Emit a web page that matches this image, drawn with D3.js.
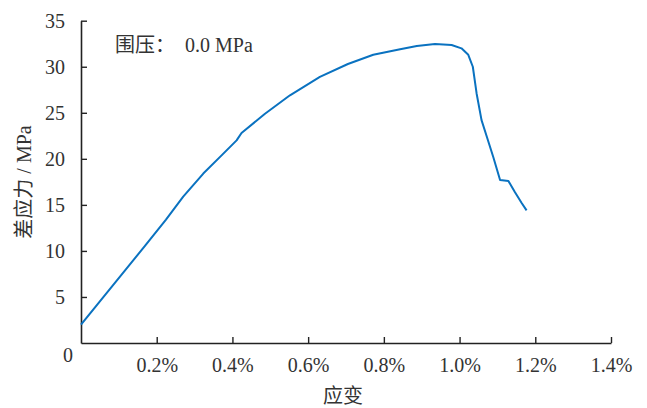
<!DOCTYPE html>
<html lang="zh">
<head>
<meta charset="UTF-8">
<title>差应力-应变曲线</title>
<script src="https://d3js.org/d3.v7.min.js"></script>
<style>
  body { margin: 0; background: #fff; }
  text { font-family: "Liberation Serif", "Noto Sans CJK SC", serif; fill: #333; }
</style>
</head>
<body>
<div id="chart"></div>
<script>
// strain (%) and deviatoric stress (MPa)
const strain = [0, 0.17, 0.2245, 0.27, 0.323, 0.372, 0.411, 0.424, 0.486, 0.552, 0.631, 0.705, 0.772, 0.843, 0.887, 0.935, 0.979, 1.005, 1.023, 1.035, 1.045, 1.058, 1.072, 1.089, 1.107, 1.129, 1.146, 1.164, 1.177];
const stress = [2.0, 10.6, 13.4, 15.9, 18.4, 20.4, 22.0, 22.8, 24.9, 26.9, 28.9, 30.3, 31.3, 31.9, 32.25, 32.46, 32.36, 32.0, 31.3, 30.0, 27.1, 24.2, 22.4, 20.2, 17.7, 17.6, 16.4, 15.2, 14.4];
const xTicks = [0.2, 0.4, 0.6, 0.8, 1.0, 1.2, 1.4];
const yTicks = [5, 10, 15, 20, 25, 30, 35];
const note = "围压：  0.0 MPa";

const W = 647, H = 408;
const svg = d3.select("#chart").append("svg")
    .attr("width", W)
    .attr("height", H);

const x = d3.scaleLinear().domain([0, 1.4]).range([81, 611]);
const y = d3.scaleLinear().domain([0, 35]).range([343, 20.7]);

const axisColor = "#222";
const fs = 20;

// x axis, ticks point up into the plot
const gx = svg.append("g")
    .attr("transform", `translate(0,${y(0)})`)
    .call(d3.axisBottom(x).tickValues(xTicks).tickSizeInner(-6).tickSizeOuter(0)
        .tickFormat(d => d.toFixed(1) + "%"));
gx.select(".domain").attr("stroke", axisColor).attr("stroke-width", 1.6);
gx.selectAll(".tick line").attr("stroke", axisColor).attr("stroke-width", 1.4);
gx.selectAll(".tick text").attr("y", 15).attr("font-size", fs).attr("font-family", null).attr("fill", "#333");

// y axis, ticks point right into the plot
const gy = svg.append("g")
    .attr("transform", `translate(${x(0)},0)`)
    .call(d3.axisLeft(y).tickValues(yTicks).tickSizeInner(-6).tickSizeOuter(0));
gy.select(".domain").attr("stroke", axisColor).attr("stroke-width", 1.6);
gy.selectAll(".tick line").attr("stroke", axisColor).attr("stroke-width", 1.4);
gy.selectAll(".tick text").attr("x", -16).attr("font-size", fs).attr("font-family", null).attr("fill", "#333");

// shared origin label
svg.append("text")
    .attr("x", 68).attr("y", 362)
    .attr("text-anchor", "middle")
    .attr("font-size", fs)
    .text("0");

// the curve
const pts = strain.map((s, i) => [s, stress[i]]);
svg.append("path")
    .datum(pts)
    .attr("fill", "none")
    .attr("stroke", "#0a72c0")
    .attr("stroke-width", 2)
    .attr("stroke-linejoin", "round")
    .attr("d", d3.line().x(d => x(d[0])).y(d => y(d[1])));

// axis titles
svg.append("text")
    .attr("x", 343).attr("y", 403)
    .attr("text-anchor", "middle")
    .attr("font-size", fs)
    .text("应变");

svg.append("text")
    .attr("transform", "translate(31,182) rotate(-90)")
    .attr("text-anchor", "middle")
    .attr("font-size", fs)
    .text("差应力 / MPa");

// confining pressure note
svg.append("text")
    .attr("x", 115).attr("y", 52)
    .attr("font-size", fs)
    .style("white-space", "pre")
    .text(note);
</script>
</body>
</html>
